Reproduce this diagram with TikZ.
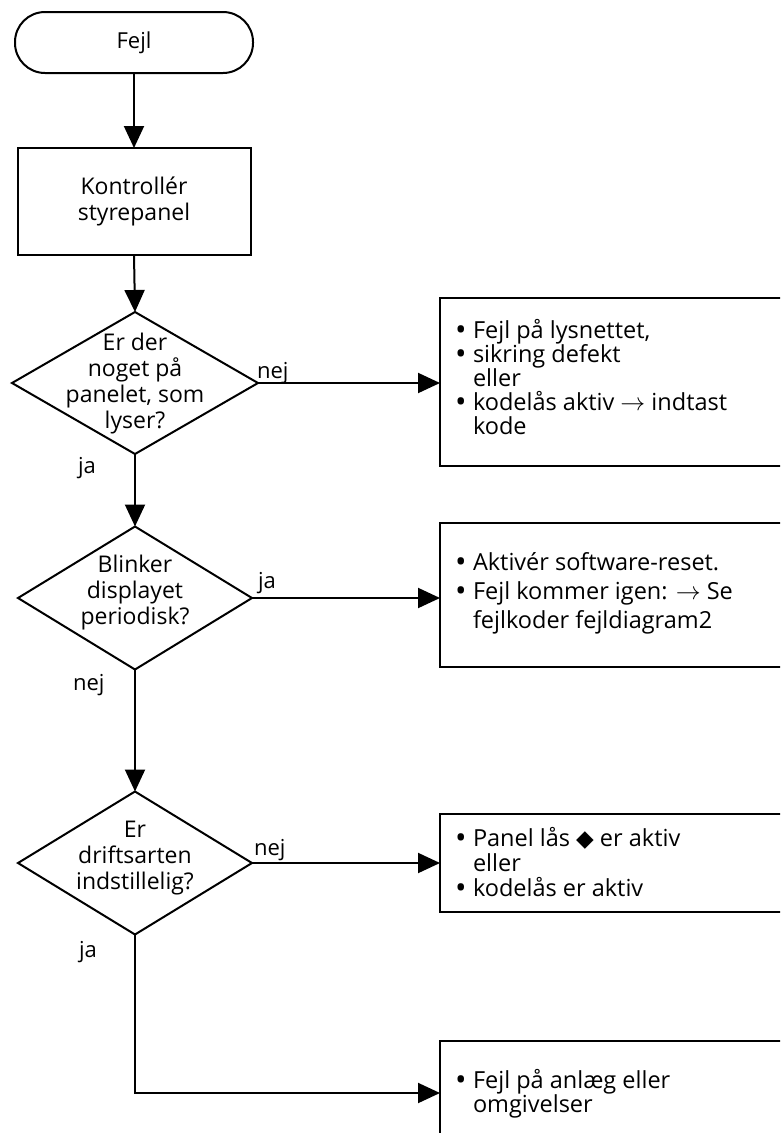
\documentclass[tikz,border=0pt]{standalone}
\usepackage{fontspec}
\setmainfont{Open Sans}[Ligatures=NoCommon]
\newfontfamily\symfont{DejaVu Sans}
\usetikzlibrary{shapes.geometric,arrows.meta}
\begin{document}
\begin{tikzpicture}[x=1pt,y=-1pt, line width=2pt,
  flow/.style={-{Triangle[length=22pt,width=20pt]}},
  base/.style={draw, line width=2pt, inner sep=0pt, outer sep=0pt},
  dia/.style={base, diamond, minimum width=234pt, minimum height=143pt},
  qtext/.style={align=center, inner sep=0pt, font=\fontsize{23}{26}\selectfont},
  btext/.style={align=left, anchor=north west, inner sep=0pt},
  lbl/.style={anchor=base west, inner sep=0pt, font=\fontsize{22}{26}\selectfont}]
\clip (0,0) rectangle (780,1133);
\useasboundingbox (0,0) rectangle (780,1133);
\fill[white] (0,0) rectangle (780,1133);

% main column
\node[base, rectangle, rounded corners=30pt, minimum width=238pt, minimum height=61pt,
      font=\fontsize{22}{26}\selectfont] (start) at (134,42.5) {Fejl};
\node[base, rectangle, minimum width=233pt, minimum height=107pt, qtext] (check) at (134,201.5) {Kontrollér\\styrepanel};

\node[dia, minimum width=246pt, minimum height=142pt] (d1) at (135,383) {};
\node[qtext] (t1) at (135,384) {Er der\\noget på\\panelet, som\\lyser?};

\node[dia] (d2) at (135,598) {};
\node[qtext] (t2) at (135,593) {Blinker\\displayet\\periodisk?};

\node[dia] (d3) at (135,863) {};
\node[qtext] (t3) at (135,858) {Er\\driftsarten\\indstillelig?};

% right boxes
\node[base, rectangle, anchor=north west, minimum width=360pt, minimum height=168pt] (b1) at (440,298) {};
\node[base, rectangle, anchor=north west, minimum width=360pt, minimum height=144pt] (b2) at (440,523) {};
\node[base, rectangle, anchor=north west, minimum width=360pt, minimum height=98pt] (b3) at (440,814) {};
\node[base, rectangle, anchor=north west, minimum width=360pt, minimum height=200pt] (b4) at (440,1041) {};

\newcommand{\bl}{\makebox[17pt][l]{\hspace{-1pt}\smash{\raisebox{-2.2pt}{\scalebox{1.3}{\textbullet}}}}}
\node[btext, font=\fontsize{23.5}{24}\selectfont] (bt1) at (455,318)
  {\bl Fejl på lysnettet,\\
   \bl sikring defekt\\
   \hspace*{17pt}eller\\
   \bl kodelås aktiv $\rightarrow$ indtast\\
   \hspace*{17pt}kode};
\node[btext, font=\fontsize{23.5}{29}\selectfont] (bt2) at (455,551)
  {\bl Aktivér software-reset.\\
   \bl Fejl kommer igen: $\rightarrow$ Se\\
   \hspace*{17pt}fejlkoder fejldiagram2};
\node[btext, font=\fontsize{23.5}{25}\selectfont] (bt3) at (455,826)
  {\bl Panel lås {\symfont\fontsize{23}{23}\selectfont ◆} er aktiv\\
   \hspace*{17pt}eller\\
   \bl kodelås er aktiv};
\node[btext, font=\fontsize{23.5}{23}\selectfont] (bt4) at (455,1068)
  {\bl Fejl på anlæg eller\\
   \hspace*{17pt}omgivelser};

% labels
\node[lbl] (l1) at (256,378) {nej};
\node[lbl] (l2) at (77,473) {ja};
\node[lbl] (l3) at (257,588) {ja};
\node[lbl] (l4) at (72,690) {nej};
\node[lbl] (l5) at (253,855) {nej};
\node[lbl] (l6) at (78,957) {ja};

\coordinate (corner) at (135,1093);

% connectors
\draw[flow] (start.south) -- (check.north);
\draw[flow] (check.south) -- (d1.north);
\draw[flow] (d1.south) -- (d2.north);
\draw[flow] (d2.south) -- (d3.north);
\draw[flow] (d1.east) -- (d1.east -| b1.west);
\draw[flow] (d2.east) -- (d2.east -| b2.west);
\draw[flow] (d3.east) -- (d3.east -| b3.west);
\draw[flow] (d3.south) -- (corner) -- (corner -| b4.west);
\end{tikzpicture}
\end{document}
